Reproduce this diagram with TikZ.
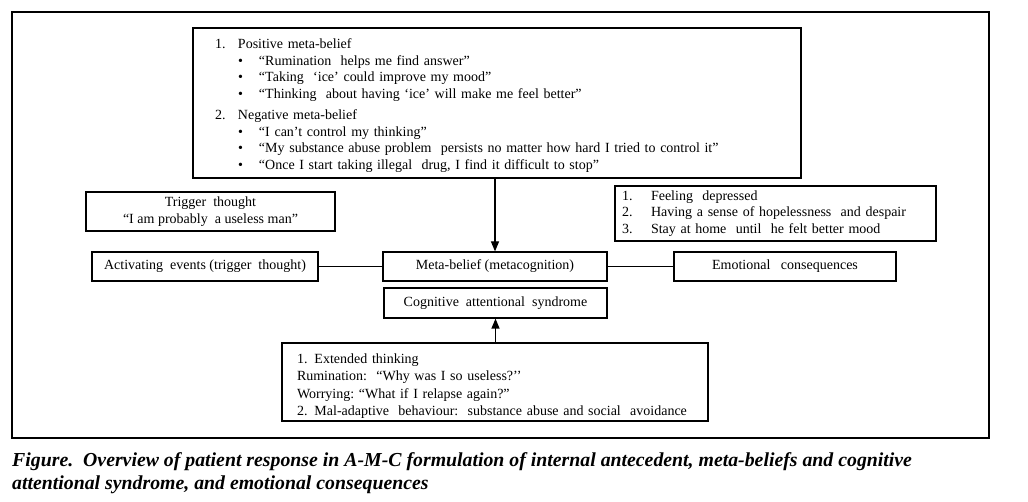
\documentclass[tikz,border=0pt]{standalone}
\usepackage{fontspec}
\setmainfont{Liberation Serif}
\usetikzlibrary{arrows.meta}
\begin{document}
\begin{tikzpicture}[x=1pt,y=-1pt,
  box/.style={draw, line width=1.2pt, inner sep=0pt, font=\fontsize{14}{16.5}\selectfont},
  link/.style={line width=1.2pt},
  arr/.style={line width=1.2pt, -{Triangle[length=10pt,width=8pt]}},
  frame/.style={draw, line width=1.2pt, inner sep=0pt}]
\useasboundingbox (0,0) rectangle (1028,502);
\node[frame, minimum width=977pt, minimum height=426pt] (outer) at (500.5,225) {};
% top meta-belief contents
\node[box, text width=608pt, minimum height=150pt, align=left] (beliefs) at (497,103) {%
\rule{0pt}{15pt}\hspace*{22pt}\makebox[23pt][l]{1.}Positive meta-belief\\
\hspace*{45pt}\makebox[21pt][l]{•}“Rumination\ \ helps me find answer”\\
\hspace*{45pt}\makebox[21pt][l]{•}“Taking\ \ ‘ice’ could improve\ my mood”\\
\hspace*{45pt}\makebox[21pt][l]{•}“Thinking\ \ about having\ ‘ice’ will\ make me feel better”\\[5pt]
\hspace*{22pt}\makebox[23pt][l]{2.}Negative meta-belief\\
\hspace*{45pt}\makebox[21pt][l]{•}“I can’t control my thinking”\\
\hspace*{45pt}\makebox[21pt][l]{•}“My substance abuse problem\ \ persists no matter how hard I tried to control it”\\
\hspace*{45pt}\makebox[21pt][l]{•}“Once I start taking illegal\ \ drug, I find it difficult\ to stop”};
% trigger thought
\node[box, minimum width=249pt, minimum height=39pt, align=center] (trigger) at (210.5,211.5) {Trigger\ \ thought\\“I am probably\ \ a useless man”};
% activating events
\node[box, minimum width=226pt, minimum height=29pt] (events) at (205,266.5) {Activating\ \ events (trigger\ \ thought)};
% meta-belief
\node[box, minimum width=224pt, minimum height=29pt] (metabelief) at (495,266.5) {Meta-belief (metacognition)};
% CAS
\node[box, minimum width=223pt, minimum height=30pt] (cas) at (495.5,303) {Cognitive\ \ attentional\ \ syndrome};
% feelings list
\node[box, text width=321pt, minimum height=55pt, align=left] (feelings) at (775.5,213.5) {%
\hspace*{7pt}\makebox[29pt][l]{1.}Feeling\ \ depressed\\
\hspace*{7pt}\makebox[29pt][l]{2.}Having a sense of hopelessness\ \ and despair\\
\hspace*{7pt}\makebox[29pt][l]{3.}Stay at home\ \ until\ \ he felt better mood};
% emotional consequences
\node[box, minimum width=222pt, minimum height=29pt] (emotion) at (785,266.5) {Emotional\ \ \ consequences};
% bottom box
\node[box, text width=426pt, minimum height=78pt, align=left, font=\fontsize{14}{17.3}\selectfont] (cogbox) at (495,382) {%
\rule{0pt}{18pt}\hspace*{15pt}1. Extended thinking\\
\hspace*{15pt}Rumination:\ \ “Why was I so useless?’’\\
\hspace*{15pt}Worrying:\ “What if I relapse again?”\\
\hspace*{15pt}2. Mal-adaptive\ \ behaviour:\ \ substance abuse and social\ \ avoidance};
% connectors
\draw[link] (events) -- (metabelief);
\draw[link] (metabelief) -- (emotion);
\draw[arr] (beliefs.south -| metabelief.north) -- (metabelief.north);
\draw[arr] (cogbox.north -| cas.south) -- (cas.south);
% caption
\node[anchor=north west, align=left, inner sep=0pt, font=\fontsize{19.8}{23}\selectfont\bfseries\itshape] (caption) at (12,452) {Figure.\ \ Overview of patient response in A-M-C formulation of internal antecedent, meta-beliefs and cognitive\\attentional syndrome, and emotional consequences};
\end{tikzpicture}
\end{document}
